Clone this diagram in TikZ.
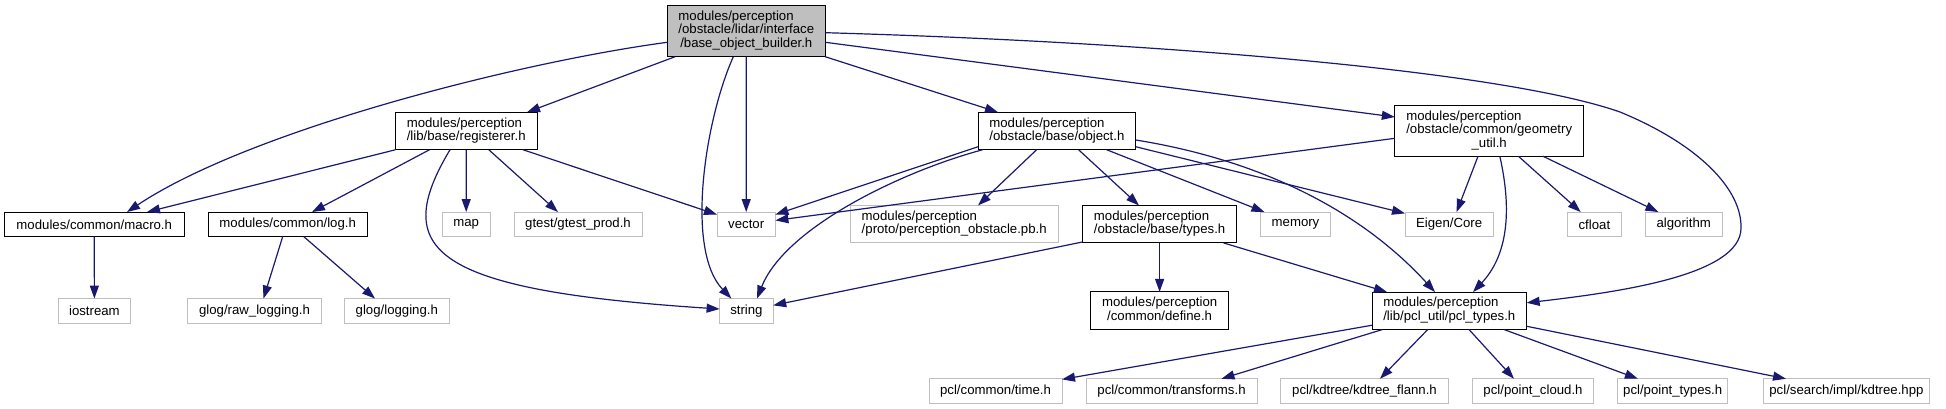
\documentclass[tikz,border=0pt]{standalone}
\usepackage{fontspec}
\setmainfont{Liberation Sans}
\usetikzlibrary{arrows.meta,calc}
\definecolor{edgec}{HTML}{191970}
\definecolor{gborder}{HTML}{BFBFBF}
\newcommand{\mytwo}[2]{\begin{tabular}{@{}l@{}}#1\\\multicolumn{1}{@{}c@{}}{#2}\end{tabular}}
\newcommand{\mythree}[3]{\begin{tabular}{@{}l@{}}#1\\#2\\\multicolumn{1}{@{}c@{}}{#3}\end{tabular}}
\begin{document}
\begin{tikzpicture}[x=1pt,y=-1pt,
  every node/.style={inner sep=0pt,outer sep=0pt,font=\fontsize{13.2}{13.3}\selectfont},
  int/.style={draw=black,line width=1pt,fill=white,minimum height=24.5pt},
  ext/.style={draw=gborder,line width=1pt,fill=white,minimum height=24.5pt},
  two/.style={minimum height=37.5pt},
  dep/.style={draw=edgec,line width=1.2pt,-{Triangle[length=13pt,width=9pt]}}]
\useasboundingbox (0,0) rectangle (1946,409);

% row 0
\node[int,fill=gborder,minimum width=158pt,minimum height=51.5pt] (root) at (746.3,31) {\mythree{modules/perception}{/obstacle/lidar/interface}{/base\_object\_builder.h}};
% row 1
\node[int,two,minimum width=141.5pt] (reg) at (466.25,131) {\mytwo{modules/perception}{/lib/base/registerer.h}};
\node[int,two,minimum width=157.8pt] (obj) at (1056.9,131) {\mytwo{modules/perception}{/obstacle/base/object.h}};
\node[int,minimum width=188.7pt,minimum height=50.5pt] (geom) at (1489.2,131) {\mythree{modules/perception}{/obstacle/common/geometry}{\_util.h}};
% row 2
\node[int,minimum width=179.5pt] (macro) at (94.25,224.3) {modules/common/macro.h};
\node[int,minimum width=159.4pt] (log) at (287.7,224.3) {modules/common/log.h};
\node[ext,minimum width=47.6pt] (map) at (466.2,224.3) {map};
\node[ext,minimum width=128pt] (gtest) at (578,224.3) {gtest/gtest\_prod.h};
\node[ext,minimum width=58.4pt] (vector) at (746.2,224.3) {vector};
\node[ext,two,minimum width=207.6pt] (pb) at (954.2,224.2) {\mytwo{modules/perception}{/proto/perception\_obstacle.pb.h}};
\node[int,two,minimum width=154pt] (types) at (1159.6,224.2) {\mytwo{modules/perception}{/obstacle/base/types.h}};
\node[ext,minimum width=69.7pt] (memory) at (1295.5,224.3) {memory};
\node[ext,minimum width=88.2pt] (eigen) at (1449.1,224.3) {Eigen/Core};
\node[ext,minimum width=53.2pt] (cfloat) at (1594.4,224.3) {cfloat};
\node[ext,minimum width=76.7pt] (algorithm) at (1683.7,224.3) {algorithm};
% row 3
\node[ext,minimum width=72.8pt] (iostream) at (94.4,310.8) {iostream};
\node[ext,minimum width=133.9pt] (raw) at (254.5,310.8) {glog/raw\_logging.h};
\node[ext,minimum width=104.4pt] (logging) at (396.8,310.8) {glog/logging.h};
\node[ext,minimum width=53.6pt] (string) at (746.4,310.8) {string};
\node[int,two,minimum width=138pt] (define) at (1159.6,310.7) {\mytwo{modules/perception}{/common/define.h}};
\node[int,two,minimum width=154.6pt] (pcl) at (1449.3,310.8) {\mytwo{modules/perception}{/lib/pcl\_util/pcl\_types.h}};
% row 4
\node[ext,minimum width=133pt] (time) at (995.5,391) {pcl/common/time.h};
\node[ext,minimum width=171pt] (transforms) at (1171.5,391) {pcl/common/transforms.h};
\node[ext,minimum width=167.5pt] (kdflann) at (1364.5,391) {pcl/kdtree/kdtree\_flann.h};
\node[ext,minimum width=121.6pt] (pointcloud) at (1533,391) {pcl/point\_cloud.h};
\node[ext,minimum width=110pt] (pointtypes) at (1672.7,391) {pcl/point\_types.h};
\node[ext,minimum width=165.7pt] (kdhpp) at (1846.4,391) {pcl/search/impl/kdtree.hpp};

% edges from root
\draw[dep] ($(root.west)+(0,11.3)$) .. controls (520,62) and (250,130) .. ($(macro.north)+(32.75,0)$);
\draw[dep] ($(root.south west)+(7.7,0)$) -- ($(reg.north east)+(-10,0)$);
\draw[dep] ($(root.south)+(-13,0)$) .. controls (705,120) and (685,250) .. ($(string.north)+(-15,0)$);
\draw[dep] (root.south) -- (vector.north);
\draw[dep] (root.south east) -- ($(obj.north west)+(20,0)$);
\draw[dep] ($(root.east)+(0,11.3)$) -- ($(geom.west)+(0,-14)$);
\draw[dep] ($(root.east)+(0,1.7)$) .. controls (1150,42) and (1500,70) .. (1620,112)
  .. controls (1700,145) and (1742,190) .. (1741,228)
  .. controls (1741,275) and (1620,292) .. ($(pcl.east)+(0,-8)$);
% edges from registerer
\draw[dep] (reg.south west) -- ($(macro.north)+(52.75,0)$);
\draw[dep] ($(reg.south)+(-36.75,0)$) -- ($(log.north)+(24.3,0)$);
\draw[dep] ($(reg.south)+(-16.25,0)$) .. controls (390,250) and (430,290) .. ($(string.west)+(0,-1.8)$);
\draw[dep] (reg.south) -- (map.north);
\draw[dep] ($(reg.south)+(22.55,0)$) -- ($(gtest.north)+(-20,0)$);
\draw[dep] ($(reg.south east)+(-14,0)$) -- (vector);
% edges from object.h
\draw[dep] ($(obj.south west)+(0,-3)$) -- (vector);
\draw[dep] ($(obj.south west)+(4.6,0)$) .. controls (900,172) and (785,228) .. ($(string.north)+(10.6,0)$);
\draw[dep] ($(obj.south)+(-20.3,0)$) -- ($(pb.north)+(23.8,0)$);
\draw[dep] ($(obj.south)+(21.7,0)$) -- ($(types.north)+(-20.6,0)$);
\draw[dep] ($(obj.south)+(49.8,0)$) -- (memory);
\draw[dep] ($(obj.south east)+(0,-3)$) -- (eigen);
\draw[dep] ($(obj.east)+(0,9)$) .. controls (1260,160) and (1360,210) .. ($(pcl.north)+(-14.3,0)$);
% edges from types.h
\draw[dep] ($(types.south west)+(0,-1)$) -- (string);
\draw[dep] (types.south) -- (define.north);
\draw[dep] ($(types.south east)+(-13,0)$) -- (pcl);
% edges from geometry_util.h
\draw[dep] ($(geom.west)+(0,7.3)$) -- (vector);
\draw[dep] ($(geom.south)+(-11.2,0)$) -- ($(eigen.north)+(7.5,0)$);
\draw[dep] ($(geom.south)+(10.6,0)$) .. controls (1512,210) and (1508,255) .. ($(pcl.north)+(23.7,0)$);
\draw[dep] ($(geom.south)+(29.2,0)$) -- (cfloat);
\draw[dep] ($(geom.south)+(53.8,0)$) -- (algorithm);
% edges from macro.h / log.h
\draw[dep] (macro.south) -- (iostream.north);
\draw[dep] ($(log.south)+(-5,0)$) -- ($(raw.north)+(9,0)$);
\draw[dep] ($(log.south)+(16,0)$) -- ($(logging.north)+(-21.8,0)$);
% edges from pcl_types.h
\draw[dep] ($(pcl.south west)+(0,-4.3)$) -- (time);
\draw[dep] ($(pcl.south west)+(10.4,0)$) -- ($(transforms.north)+(50,0)$);
\draw[dep] ($(pcl.south)+(-21.6,0)$) -- ($(kdflann.north)+(15.5,0)$);
\draw[dep] ($(pcl.south)+(19.7,0)$) -- ($(pointcloud.north)+(-19,0)$);
\draw[dep] ($(pcl.south)+(54.7,0)$) -- ($(pointtypes.north)+(-34.8,0)$);
\draw[dep] ($(pcl.south east)+(0,-3.3)$) -- ($(kdhpp.north)+(-60.4,0)$);
\end{tikzpicture}
\end{document}
